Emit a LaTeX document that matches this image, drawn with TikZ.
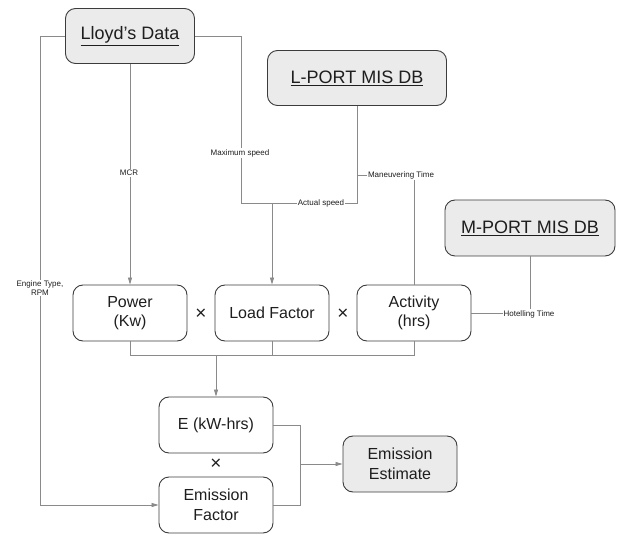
\documentclass[tikz,border=0pt]{standalone}
\usepackage{fontspec}
\setmainfont{Liberation Sans}
\usetikzlibrary{
  positioning,
  arrows.meta,
  calc
}
\usepackage{xcolor}
\definecolor{wire}{HTML}{8A8A8A}
\definecolor{edge}{HTML}{3C3C3C}
\definecolor{shade}{HTML}{EBEBEB}
\definecolor{ink}{HTML}{1E1E1E}

\begin{document}
\begin{tikzpicture}[
  x=1pt, y=-1pt,
  box/.style={draw=edge, line width=0.9pt, rounded corners=10pt, minimum height=56pt,
              minimum width=114pt, inner sep=0pt, align=center, text=ink,
              font=\fontsize{16}{19.5}\selectfont},
  src/.style={box, fill=shade, minimum height=55pt, font=\fontsize{18}{21}\selectfont},
  lbl/.style={fill=white, inner sep=1pt, text=ink, align=center,
              font=\fontsize{8}{9}\selectfont},
  times/.style={text=ink, inner sep=0pt, font=\fontsize{19}{19}\selectfont},
  line/.style={draw=wire, line width=0.8pt},
  arr/.style={line, -{Triangle[length=7pt, width=4pt]}}
]
  \useasboundingbox (0,0) rectangle (618,534);

  % data sources
  \node[src, minimum width=129pt] (lloyd) at (130, 36) {\underline{Lloyd’s Data}};
  \node[src, minimum width=179pt] (lport) at (357, 78) {\underline{L-PORT MIS DB}};
  \node[src, minimum width=170pt, minimum height=56pt] (mport) at (530, 228) {\underline{M-PORT MIS DB}};

  % Power x Load Factor x Activity
  \node[box] (power) at (130, 313) {Power\\(Kw)};
  \node[box] (load) at (272, 313) {Load Factor};
  \node[box] (activity) at (414, 313) {Activity\\(hrs)};
  \node[times] (x1) at (201, 314) {×};
  \node[times] (x2) at (343, 314) {×};

  % energy x emission factor
  \node[box] (energy) at (216, 425) {E (kW-hrs)};
  \node[times] (x3) at (216, 464) {×};
  \node[box] (emf) at (216, 505) {Emission\\Factor};
  \node[box, fill=shade] (estimate) at (400, 464) {Emission\\Estimate};

  \coordinate (speed) at (272, 203);
  \coordinate (mtime) at (357, 175);
  \coordinate (bus) at (216, 355);
  \coordinate (merge) at (300, 464);

  % Lloyd's Data inputs
  \draw[arr] (lloyd.west) -- ++(-25,0) |- (emf.west);
  \node[lbl] (engine) at (40, 288) {Engine Type,\\RPM};
  \draw[arr] (lloyd.south) -- (power.north);
  \node[lbl] (mcr) at (129, 173) {MCR};
  \draw[line] (lloyd.east) -- ++(46,0) |- (speed);
  \node[lbl] (maxspd) at (240, 153) {Maximum speed};

  % L-PORT inputs
  \draw[line] (lport.south) |- (speed);
  \node[lbl] (actspd) at (321, 203) {Actual speed};
  \draw[arr] (speed) -- (load.north);
  \draw[line] (mtime) -| (activity.north);
  \node[lbl] (maneuv) at (401, 175) {Maneuvering Time};

  % M-PORT input
  \draw[line] (mport.south) |- (activity.east);
  \node[lbl] (hotel) at (529, 314) {Hotelling Time};

  % product bus
  \draw[line] (power.south) |- (bus);
  \draw[line] (activity.south) |- (bus);
  \draw[line] (load.south) -- (load.south |- bus);
  \draw[arr] (bus) -- (energy.north);

  % estimate
  \draw[line] (energy.east) -| (merge);
  \draw[line] (emf.east) -| (merge);
  \draw[arr] (merge) -- (estimate.west);
\end{tikzpicture}
\end{document}
